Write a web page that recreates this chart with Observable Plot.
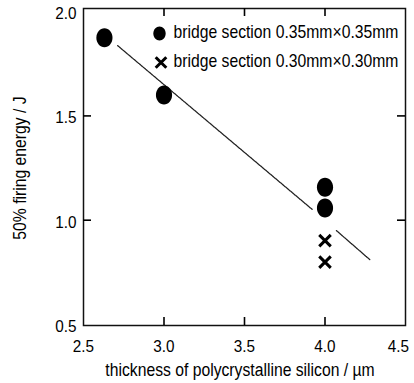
<!DOCTYPE html>
<html>
<head>
<meta charset="utf-8">
<script src="https://cdn.jsdelivr.net/npm/d3@7"></script>
<script src="https://cdn.jsdelivr.net/npm/@observablehq/plot@0.6"></script>
<style>
  html, body { margin: 0; padding: 0; background: #fff; }
  #chart { width: 414px; height: 383px; }
</style>
</head>
<body>
<div id="chart"></div>
<script>
// Data
const thickness035 = [2.63, 3.0, 4.0, 4.0];
const energy035 = [1.875, 1.60, 1.158, 1.058];
const thickness030 = [4.0, 4.0];
const energy030 = [0.902, 0.799];
const trendSeg = ["a", "a", "b", "b"];
const trendX = [2.712, 3.92, 4.071, 4.278];
const trendY = [1.837, 1.052, 0.950, 0.811];
const xTicks = [2.5, 3.0, 3.5, 4.0];
const xTickLast = [4.5];
const yTicks = [0.5, 1.0, 1.5, 2.0];
const innerXTicks = [3.0, 3.5, 4.0];
const innerYTicks = [1.0, 1.5];
const legendLabels = ["bridge section 0.35mm\u00d70.35mm", "bridge section 0.30mm\u00d70.30mm"];
const xLabel = "thickness of polycrystalline silicon / \u00b5m";
const yLabel = "50% firing energy / J";

const series035 = thickness035.map((x, i) => ({x, y: energy035[i]}));
const series030 = thickness030.map((x, i) => ({x, y: energy030[i]}));
const trend = trendX.map((x, i) => ({x, y: trendY[i], seg: trendSeg[i]}));

// tall ellipse symbol
function ellipseSymbol(sx) {
  return {
    draw(ctx, size) {
      const ry = Math.sqrt(size / Math.PI), rx = ry * sx, k = 0.5523;
      ctx.moveTo(0, -ry);
      ctx.bezierCurveTo(rx * k, -ry, rx, -ry * k, rx, 0);
      ctx.bezierCurveTo(rx, ry * k, rx * k, ry, 0, ry);
      ctx.bezierCurveTo(-rx * k, ry, -rx, ry * k, -rx, 0);
      ctx.bezierCurveTo(-rx, -ry * k, -rx * k, -ry, 0, -ry);
      ctx.closePath();
    }
  };
}
const ellData = ellipseSymbol(0.85);
const ellLegend = ellipseSymbol(0.88);

const FONT = "'Liberation Sans', Arial, sans-serif";
const W = 414, H = 383, ML = 83, MR = 9, MT = 8, MB = 58;
const fh = H - MT - MB, fw = W - ML - MR, TL = 8;

const chart = Plot.plot({
  width: W,
  height: H,
  marginLeft: ML,
  marginRight: MR,
  marginTop: MT,
  marginBottom: MB,
  style: {fontFamily: FONT, fontSize: "17px", color: "#000", background: "#fff"},
  x: {domain: [2.5, 4.5]},
  y: {domain: [0.495, 2.015]},
  marks: [
    // tick labels
    Plot.axisX(xTicks, {anchor: "bottom", tickSize: 0, tickPadding: 14, tickFormat: d3.format(".1f"), label: null, fontSize: 17}),
    Plot.axisX(xTickLast, {anchor: "bottom", tickSize: 0, tickPadding: 14, dx: -7, tickFormat: d3.format(".1f"), label: null, fontSize: 17}),
    Plot.axisY(yTicks, {anchor: "left", tickSize: 0, tickPadding: 7, dy: 2, tickFormat: d3.format(".1f"), label: null, fontSize: 17}),
    Plot.frame({stroke: "#111", strokeWidth: 1.5}),
    // inward ticks on all four sides
    Plot.tickX(innerXTicks, {x: d => d, insetTop: fh - TL, stroke: "#000", strokeWidth: 1.6}),
    Plot.tickX(innerXTicks, {x: d => d, insetBottom: fh - TL, stroke: "#000", strokeWidth: 1.6}),
    Plot.tickY(innerYTicks, {y: d => d, insetRight: fw - TL, stroke: "#000", strokeWidth: 1.6}),
    Plot.tickY(innerYTicks, {y: d => d, insetLeft: fw - TL, stroke: "#000", strokeWidth: 1.6}),
    // trend line
    Plot.line(trend, {x: "x", y: "y", z: "seg", stroke: "#222", strokeWidth: 1.3, strokeDasharray: "1.2,1"}),
    // data
    Plot.dot(series035, {x: "x", y: "y", symbol: ellData, r: 9.5, fill: "#000", stroke: "none"}),
    Plot.dot(series030, {x: "x", y: "y", symbol: "times", r: 5.3, stroke: "#000", strokeWidth: 3}),
    // legend
    Plot.dot([legendLabels[0]], {frameAnchor: "top-left", dx: 76, dy: 25, symbol: ellLegend, r: 7, fill: "#000", stroke: "none"}),
    Plot.dot([legendLabels[1]], {frameAnchor: "top-left", dx: 77.5, dy: 54, symbol: "times", r: 4.9, stroke: "#000", strokeWidth: 3}),
    Plot.text([legendLabels[0]], {frameAnchor: "top-left", dx: 90, dy: 24, text: d => d, textAnchor: "start", lineAnchor: "middle", fontSize: 18.5}),
    Plot.text([legendLabels[1]], {frameAnchor: "top-left", dx: 90, dy: 53, text: d => d, textAnchor: "start", lineAnchor: "middle", fontSize: 18.5}),
    // axis titles
    Plot.text([xLabel], {frameAnchor: "bottom", dx: -4.5, dy: 45, text: d => d, fontSize: 18.5, textAnchor: "middle", lineAnchor: "middle"}),
    Plot.text([yLabel], {frameAnchor: "left", dx: -63, dy: 1, rotate: -90, text: d => d, fontSize: 18.5, textAnchor: "middle", lineAnchor: "middle"})
  ]
});

// emulate a narrow (condensed) typeface by squeezing each text about its anchor
chart.querySelectorAll("text").forEach(el => {
  const isTick = /^\d\.\d$/.test(el.textContent.trim());
  const sx = isTick ? 0.9 : 0.85;
  let t = el.getAttribute("transform");
  if (!t) {
    const x = el.getAttribute("x") || 0, y = el.getAttribute("y") || 0;
    el.removeAttribute("x"); el.removeAttribute("y");
    t = `translate(${x},${y})`;
  }
  el.setAttribute("transform", `${t} scale(${sx},1)`);
});

document.getElementById("chart").appendChild(chart);
</script>
</body>
</html>
